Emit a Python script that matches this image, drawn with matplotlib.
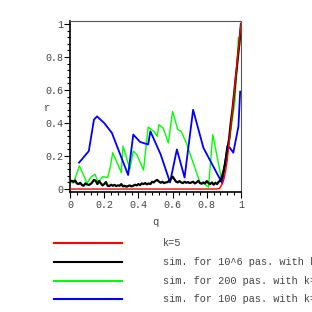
import matplotlib
matplotlib.use("Agg")
import matplotlib.pyplot as plt
from matplotlib.ticker import MultipleLocator

# theory curve k=5
q_red = [0, 0.86, 0.875, 0.89, 0.90, 0.91, 0.92, 0.94, 0.96, 0.98, 1.0]
r_red = [0, 0, 0.005, 0.03, 0.06, 0.11, 0.18, 0.37, 0.58, 0.80, 1.0]

# sim. for 10^6 passes
q_black = [0.0, 0.01, 0.02, 0.03, 0.04, 0.05, 0.06, 0.07, 0.08, 0.09, 0.10,
           0.11, 0.12, 0.13, 0.14, 0.15, 0.16, 0.17, 0.18, 0.19, 0.20,
           0.21, 0.22, 0.23, 0.24, 0.25, 0.26, 0.27, 0.28, 0.29, 0.30,
           0.31, 0.32, 0.33, 0.34, 0.35, 0.36, 0.37, 0.38, 0.39, 0.40,
           0.41, 0.42, 0.43, 0.44, 0.45, 0.46, 0.47, 0.48, 0.49, 0.50,
           0.51, 0.52, 0.53, 0.54, 0.55, 0.56, 0.57, 0.58, 0.59, 0.60,
           0.61, 0.62, 0.63, 0.64, 0.65, 0.66, 0.67, 0.68, 0.69, 0.70,
           0.71, 0.72, 0.73, 0.74, 0.75, 0.76, 0.77, 0.78, 0.79, 0.80,
           0.81, 0.82, 0.83, 0.84, 0.85, 0.86, 0.87, 0.88, 0.89, 0.90,
           0.91, 0.92, 0.93, 0.94, 0.95, 0.96, 0.97, 0.98, 0.99, 1.0]
r_black = [0.045, 0.05, 0.044, 0.052, 0.034, 0.03, 0.038, 0.024, 0.02, 0.034, 0.028,
           0.025, 0.03, 0.04, 0.055, 0.05, 0.03, 0.048, 0.035, 0.022, 0.03,
           0.042, 0.02, 0.018, 0.026, 0.02, 0.025, 0.018, 0.022, 0.02, 0.03,
           0.016, 0.02, 0.014, 0.018, 0.022, 0.016, 0.02, 0.026, 0.022, 0.03,
           0.024, 0.034, 0.03, 0.036, 0.028, 0.034, 0.03, 0.044, 0.04, 0.05,
           0.055, 0.045, 0.038, 0.044, 0.036, 0.04, 0.042, 0.05, 0.06, 0.075,
           0.06, 0.045, 0.04, 0.048, 0.04, 0.036, 0.044, 0.038, 0.042, 0.036,
           0.04, 0.044, 0.034, 0.04, 0.05, 0.036, 0.032, 0.04, 0.034, 0.048,
           0.036, 0.03, 0.04, 0.026, 0.038, 0.03, 0.045, 0.05, 0.08, 0.12,
           0.17, 0.24, 0.30, 0.40, 0.48, 0.58, 0.68, 0.78, 0.88, 1.0]

# sim. for 200 passes
q_green = [0.0, 0.02, 0.055, 0.10, 0.12, 0.146, 0.165, 0.19, 0.22, 0.235, 0.25,
           0.30, 0.31, 0.35, 0.37, 0.39, 0.43, 0.457, 0.49, 0.51, 0.52,
           0.545, 0.575, 0.60, 0.63, 0.65, 0.68, 0.76, 0.78, 0.81, 0.835,
           0.89, 0.91, 0.935, 0.965, 0.985, 0.99, 1.0]
r_green = [0.05, 0.035, 0.14, 0.035, 0.07, 0.09, 0.04, 0.075, 0.07, 0.13, 0.22,
           0.10, 0.26, 0.12, 0.23, 0.21, 0.115, 0.375, 0.35, 0.32, 0.39,
           0.37, 0.28, 0.47, 0.36, 0.35, 0.28, 0.04, 0.035, 0.012, 0.33,
           0.04, 0.16, 0.31, 0.54, 0.92, 0.85, 1.0]

# sim. for 100 passes
q_blue = [0.053, 0.11, 0.14, 0.158, 0.20, 0.245, 0.34, 0.37, 0.41, 0.457, 0.47,
          0.53, 0.585, 0.625, 0.67, 0.72, 0.78, 0.89, 0.92, 0.935, 0.955,
          0.985, 0.995]
r_blue = [0.16, 0.23, 0.42, 0.44, 0.40, 0.34, 0.085, 0.33, 0.285, 0.27, 0.35,
          0.21, 0.04, 0.24, 0.07, 0.48, 0.25, 0.035, 0.26, 0.25, 0.22,
          0.38, 0.59]

labels = ["k=5", "sim. for 10^6 pas. with k=5",
          "sim. for 200 pas. with k=5", "sim. for 100 pas. with k=5"]
colors = ["#ff0000", "#000000", "#00ff00", "#0000ff"]

mono = "Liberation Mono"
fig = plt.figure(figsize=(3.12, 3.12), dpi=100)
ax = fig.add_axes([70 / 312, 1 - 192 / 312, 171 / 312, 171 / 312])

ax.plot(q_red, r_red, color=colors[0], lw=1.0, zorder=5)
ax.plot(q_black, r_black, color=colors[1], lw=1.6, zorder=4)
ax.plot(q_green, r_green, color=colors[2], lw=1.0, zorder=2)
ax.plot(q_blue, r_blue, color=colors[3], lw=1.3, zorder=3)

ax.set_xlim(0, 1)
ax.set_ylim(-0.018, 1.018)
ax.xaxis.set_major_locator(MultipleLocator(0.2))
ax.xaxis.set_minor_locator(MultipleLocator(0.04))
ax.yaxis.set_major_locator(MultipleLocator(0.2))
ax.yaxis.set_minor_locator(MultipleLocator(0.04))
ax.set_xticks([0, 0.2, 0.4, 0.6, 0.8, 1.0])
ax.set_xticklabels(["0", "0.2", "0.4", "0.6", "0.8", "1"])
ax.set_yticks([0, 0.2, 0.4, 0.6, 0.8, 1.0])
ax.set_yticklabels(["0", "0.2", "0.4", "0.6", "0.8", "1"])
ax.tick_params(which="major", direction="out", length=4, width=0.8, pad=2,
               labelsize=7.2, labelcolor="#444444")
ax.tick_params(axis="y", which="major", pad=0.5)
ax.tick_params(which="minor", direction="out", length=2.5, width=0.8)
for lab in ax.get_xticklabels() + ax.get_yticklabels():
    lab.set_fontfamily(mono)

ax.spines["left"].set_linewidth(1.2)
ax.spines["bottom"].set_linewidth(1.2)
for s in ["top", "right"]:
    ax.spines[s].set_color("#555555")
    ax.spines[s].set_linewidth(0.8)

fig.text(155 / 312, 1 - 222 / 312, "q", fontsize=7.5, family=mono,
         color="#444444", ha="center", va="center")
fig.text(47 / 312, 1 - 108 / 312, "r", fontsize=7.5, family=mono,
         color="#444444", ha="center", va="center")

# legend drawn below the plot, running off the right edge as in the original
leg_y = [243, 262, 281, 299]
for lab, col, yy in zip(labels, colors, leg_y):
    fig.add_artist(plt.Line2D([54 / 312, 122 / 312], [1 - yy / 312] * 2,
                              color=col, lw=1.5))
    fig.text(163 / 312, 1 - yy / 312, lab, fontsize=7.4, family=mono,
             color="#444444", ha="left", va="center")

fig.savefig("out.png", dpi=100)
